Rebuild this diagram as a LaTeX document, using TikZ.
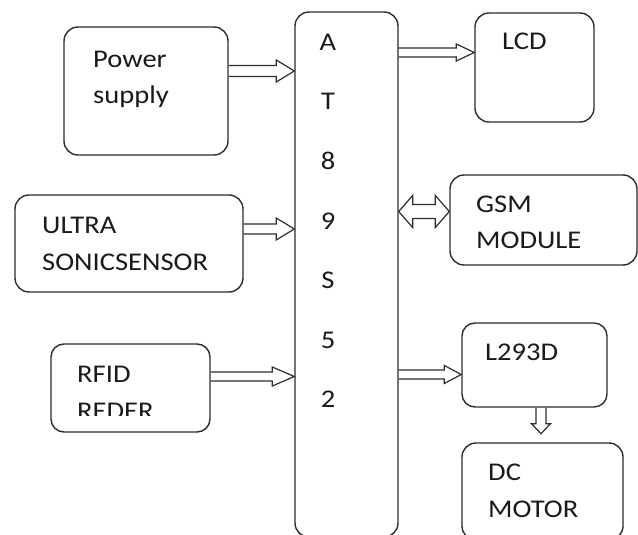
\documentclass[tikz,border=0pt]{standalone}
\usepackage{fontspec}
\setmainfont{Carlito}[FakeStretch=1.12]
\usetikzlibrary{calc}
\definecolor{linec}{HTML}{2E2E2E}
\definecolor{textc}{HTML}{1A1A1A}
\tikzset{
  box/.style={draw=linec, line width=1.4pt, rounded corners=14pt, inner sep=0pt},
  lbl/.style={anchor=base west, inner sep=0pt, font=\fontsize{25.5}{30}\selectfont, text=textc},
  arr/.style={draw=linec, line width=1.2pt, line join=miter}
}
% one-headed block arrow: #1 start, #2 tip, #3 shaft half width, #4 head half width, #5 head length
\newcommand\onearr[5]{%
  \coordinate (hb) at ($(#2)!#5!(#1)$);
  \draw[arr] ($(#1)!#3!90:(#2)$) -- ($(hb)!#3!90:(#2)$) -- ($(hb)!#4!90:(#2)$) -- (#2)
     -- ($(hb)!#4!-90:(#2)$) -- ($(hb)!#3!-90:(#2)$) -- ($(#1)!#3!-90:(#2)$);
}
% two-headed block arrow
\newcommand\twoarr[5]{%
  \coordinate (hb) at ($(#2)!#5!(#1)$);
  \coordinate (hc) at ($(#1)!#5!(#2)$);
  \draw[arr] ($(hc)!#3!90:(#2)$) -- ($(hb)!#3!90:(#2)$) -- ($(hb)!#4!90:(#2)$) -- (#2)
     -- ($(hb)!#4!-90:(#2)$) -- ($(hb)!#3!-90:(#2)$) -- ($(hc)!#3!-90:(#2)$)
     -- ($(hc)!#4!-90:(#2)$) -- (#1) -- ($(hc)!#4!90:(#2)$) -- cycle;
}
\begin{document}
\begin{tikzpicture}[x=1pt, y=-1pt]
\useasboundingbox (0,0) rectangle (638,535);
\clip (0,0) rectangle (638,535);
\fill[white] (0,0) rectangle (638,535);

% boxes
\node[box, minimum width=164pt, minimum height=128pt] (pw) at (146,91) {};
\node[box, minimum width=228pt, minimum height=97pt] (us) at (129,243.5) {};
\node[box, minimum width=159pt, minimum height=88pt, rounded corners=13pt] (rf) at (130.5,388) {};
\node[box, minimum width=103pt, minimum height=525pt] (mcu) at (346.5,274.5) {};
\node[box, minimum width=119pt, minimum height=109pt] (lcd) at (534.5,67.5) {};
\node[box, minimum width=187pt, minimum height=90pt] (gsm) at (543.5,220) {};
\node[box, minimum width=145pt, minimum height=84pt, rounded corners=13pt] (drv) at (534.5,365) {};
\node[box, minimum width=161pt, minimum height=97pt] (dc) at (542.5,491.5) {};

% texts
\node[lbl] (t1) at (93,68) {Power};
\node[lbl] (t2) at (93,103) {supply};
\node[lbl] (t3) at (42,233) {ULTRA};
\node[lbl] (t4) at (42,270) {SONICSENSOR};
\node[lbl] (t5) at (77,382) {RFID};
\begin{scope}
  \clip (60,395) rectangle (200,415);
  \node[lbl] (t6) at (77,419.5) {REDER};
\end{scope}
\node[lbl] (t7) at (502,50) {LCD};
\node[lbl] (t8) at (476,212) {GSM};
\node[lbl] (t9) at (476,248) {MODULE};
\node[lbl] (t10) at (485,360) {L293D};
\node[lbl] (t11) at (488,480) {DC};
\node[lbl] (t12) at (488,517) {MOTOR};

\foreach \ch/\yy [count=\i] in {A/51,T/110,8/169,9/229,S/288,5/348,2/407}
  \node[lbl, anchor=base] (m\i) at (328,\yy) {\ch};

% connectors
\coordinate (a1s) at ($(pw.east)+(0,-20)$);
\coordinate (a1e) at (mcu.west |- a1s);
\onearr{a1s}{a1e}{5.5pt}{11pt}{18pt}

\coordinate (a2s) at ($(us.east)+(0,-14.5)$);
\coordinate (a2e) at (mcu.west |- a2s);
\onearr{a2s}{a2e}{5pt}{11pt}{18pt}

\coordinate (a3s) at ($(rf.east)+(0,-11.5)$);
\coordinate (a3e) at (mcu.west |- a3s);
\onearr{a3s}{a3e}{4.5pt}{9.5pt}{22pt}

\coordinate (a4e) at ($(lcd.west)+(0,-15)$);
\coordinate (a4s) at (mcu.east |- a4e);
\onearr{a4s}{a4e}{4.5pt}{8.5pt}{18pt}

\coordinate (a5e) at ($(gsm.west)+(0,-8.5)$);
\coordinate (a5s) at (mcu.east |- a5e);
\twoarr{a5s}{a5e}{7pt}{16pt}{14pt}

\coordinate (a6e) at ($(drv.west)+(0,9.5)$);
\coordinate (a6s) at (mcu.east |- a6e);
\onearr{a6s}{a6e}{4.5pt}{9pt}{17pt}

\coordinate (a7s) at ($(drv.south)+(6.5,0)$);
\coordinate (a7e) at ($(a7s)+(0,26)$);
\onearr{a7s}{a7e}{5pt}{9.5pt}{10pt}
\end{tikzpicture}
\end{document}
